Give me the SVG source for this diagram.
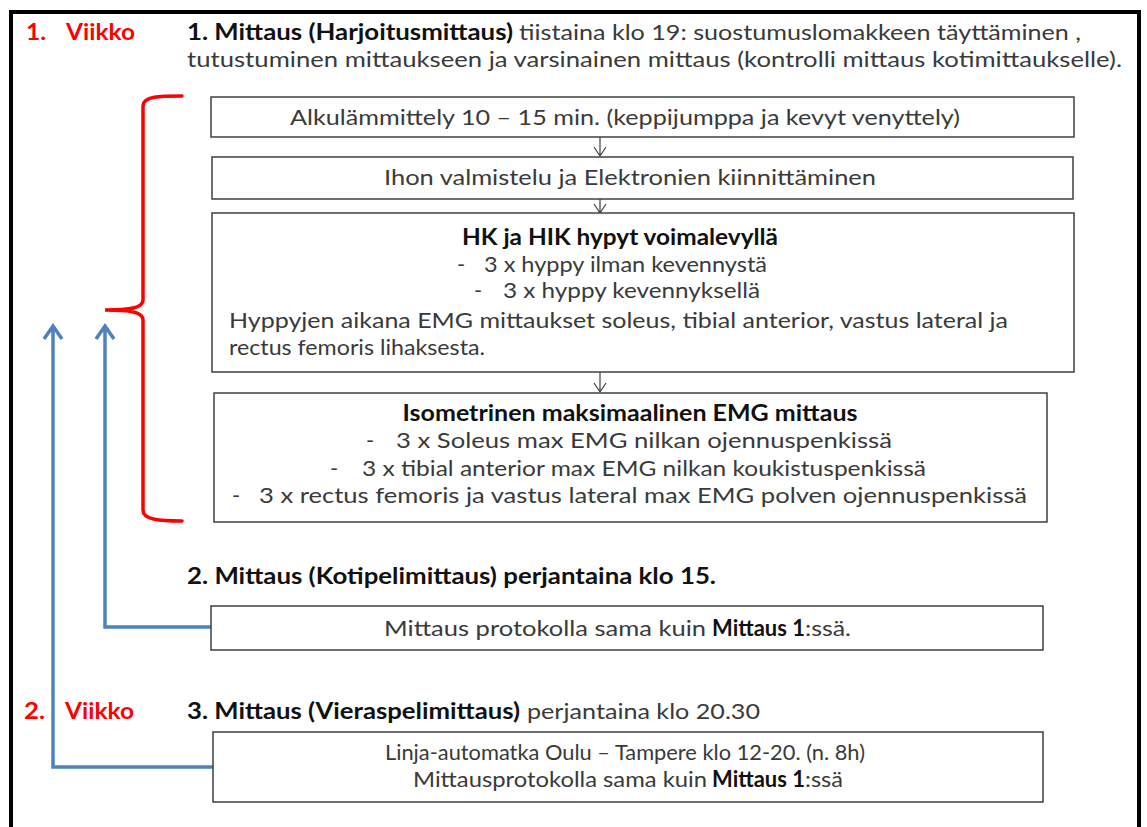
<svg xmlns="http://www.w3.org/2000/svg" width="1147" height="827" viewBox="0 0 1147 827">
<style>
  text { font-family: Lato, "Liberation Sans", sans-serif; font-size: 22px; fill: #3a3a3a; }
  .b { font-weight: bold; fill: #111; }
  .red { font-weight: bold; fill: #ff0000; font-size: 22px; }
  .box { fill: #ffffff; stroke: #404040; stroke-width: 1.5; }
  .flow { fill: none; stroke: #404040; stroke-width: 1.2; }
  .blue { fill: none; stroke: #4f81bd; stroke-width: 3.5; }
  .brace { fill: none; stroke: #ff0000; stroke-width: 3.5; stroke-linecap: round; }
</style>
<rect x="0" y="0" width="1147" height="827" fill="#ffffff"/>
<rect x="11" y="12" width="1128" height="840" fill="none" stroke="#000" stroke-width="4"/>

<g id="header1">
  <text class="red" x="26" y="40" textLength="20" lengthAdjust="spacingAndGlyphs">1.</text>
  <text class="red" x="66" y="40" textLength="69" lengthAdjust="spacingAndGlyphs">Viikko</text>
  <text class="b" x="187" y="40" textLength="326" lengthAdjust="spacingAndGlyphs">1. Mittaus (Harjoitusmittaus)</text>
  <text x="519" y="40" textLength="562" lengthAdjust="spacingAndGlyphs">tiistaina klo 19: suostumuslomakkeen täyttäminen ,</text>
  <text x="187" y="67" textLength="935" lengthAdjust="spacingAndGlyphs">tutustuminen  mittaukseen ja varsinainen mittaus (kontrolli mittaus kotimittaukselle).</text>
</g>

<g id="brace">
  <path class="brace" d="M182,96 C160,96 143,96 143,106 L143,300 C143,308 130,310 105,310 C130,310 143,312 143,320 L143,510 C143,520 160,521 182,521"/>
</g>

<g id="connectors">
  <path class="flow" d="M600,137 V156 M594,147 L600,156 L606,147"/>
  <path class="flow" d="M600,199 V213 M594,204 L600,213 L606,204"/>
  <path class="flow" d="M600,372 V392 M594,383 L600,392 L606,383"/>
  <path class="blue" d="M211,627 H105 V326 M96,339 L105,326 L114,339"/>
  <path class="blue" d="M213,767 H53 V326 M44,339 L53,326 L62,339"/>
</g>

<g id="box1">
  <rect class="box" x="211" y="97" width="863" height="40"/>
  <text x="625" y="125" text-anchor="middle" textLength="670" lengthAdjust="spacingAndGlyphs">Alkulämmittely 10 – 15 min. (keppijumppa ja kevyt venyttely)</text>
</g>

<g id="box2">
  <rect class="box" x="212" y="157" width="861" height="42"/>
  <text x="630" y="185" text-anchor="middle" textLength="492" lengthAdjust="spacingAndGlyphs">Ihon valmistelu ja Elektronien kiinnittäminen</text>
</g>

<g id="box3">
  <rect class="box" x="212" y="213" width="862" height="159"/>
  <text class="b" x="620" y="245" text-anchor="middle" textLength="316" lengthAdjust="spacingAndGlyphs">HK ja HIK hypyt voimalevyllä</text>
  <text x="457" y="272">-</text>
  <text x="484" y="272" textLength="283" lengthAdjust="spacingAndGlyphs">3 x hyppy ilman kevennystä</text>
  <text x="474" y="298">-</text>
  <text x="503" y="298" textLength="257" lengthAdjust="spacingAndGlyphs">3 x hyppy kevennyksellä</text>
  <text x="229" y="328" textLength="779" lengthAdjust="spacingAndGlyphs">Hyppyjen aikana EMG mittaukset soleus, tibial anterior, vastus lateral ja</text>
  <text x="229" y="355" textLength="256" lengthAdjust="spacingAndGlyphs">rectus femoris lihaksesta.</text>
</g>

<g id="box4">
  <rect class="box" x="214" y="393" width="833" height="129"/>
  <text class="b" x="630" y="421" text-anchor="middle" textLength="455" lengthAdjust="spacingAndGlyphs">Isometrinen maksimaalinen  EMG mittaus</text>
  <text x="366" y="448">-</text>
  <text x="396" y="448" textLength="496" lengthAdjust="spacingAndGlyphs">3 x Soleus  max EMG  nilkan ojennuspenkissä</text>
  <text x="330" y="476">-</text>
  <text x="362" y="476" textLength="564" lengthAdjust="spacingAndGlyphs">3 x tibial anterior max EMG nilkan koukistuspenkissä</text>
  <text x="232" y="503">-</text>
  <text x="259" y="503" textLength="768" lengthAdjust="spacingAndGlyphs">3 x rectus femoris ja vastus lateral  max EMG  polven ojennuspenkissä</text>
</g>

<g id="header2">
  <text class="b" x="187" y="584" textLength="529" lengthAdjust="spacingAndGlyphs">2. Mittaus (Kotipelimittaus) perjantaina klo 15.</text>
</g>

<g id="box5">
  <rect class="box" x="211" y="606" width="832" height="44"/>
  <text x="384" y="636" textLength="322" lengthAdjust="spacingAndGlyphs">Mittaus protokolla sama kuin</text>
  <text class="b" x="712" y="636" textLength="93" lengthAdjust="spacingAndGlyphs">Mittaus 1</text>
  <text x="805" y="636" textLength="46" lengthAdjust="spacingAndGlyphs">:ssä.</text>
</g>

<g id="header3">
  <text class="red" x="24" y="719" textLength="21" lengthAdjust="spacingAndGlyphs">2.</text>
  <text class="red" x="65" y="719" textLength="69" lengthAdjust="spacingAndGlyphs">Viikko</text>
  <text class="b" x="187" y="719" textLength="333" lengthAdjust="spacingAndGlyphs">3. Mittaus (Vieraspelimittaus)</text>
  <text x="527" y="719" textLength="233" lengthAdjust="spacingAndGlyphs">perjantaina klo 20.30</text>
</g>

<g id="box6">
  <rect class="box" x="213" y="732" width="830" height="70"/>
  <text x="625" y="760" text-anchor="middle" textLength="480" lengthAdjust="spacingAndGlyphs">Linja-automatka Oulu – Tampere klo 12-20. (n. 8h)</text>
  <text x="413" y="787" textLength="294" lengthAdjust="spacingAndGlyphs">Mittausprotokolla sama kuin</text>
  <text class="b" x="712" y="787" textLength="93" lengthAdjust="spacingAndGlyphs">Mittaus 1</text>
  <text x="805" y="787" textLength="38" lengthAdjust="spacingAndGlyphs">:ssä</text>
</g>
</svg>
